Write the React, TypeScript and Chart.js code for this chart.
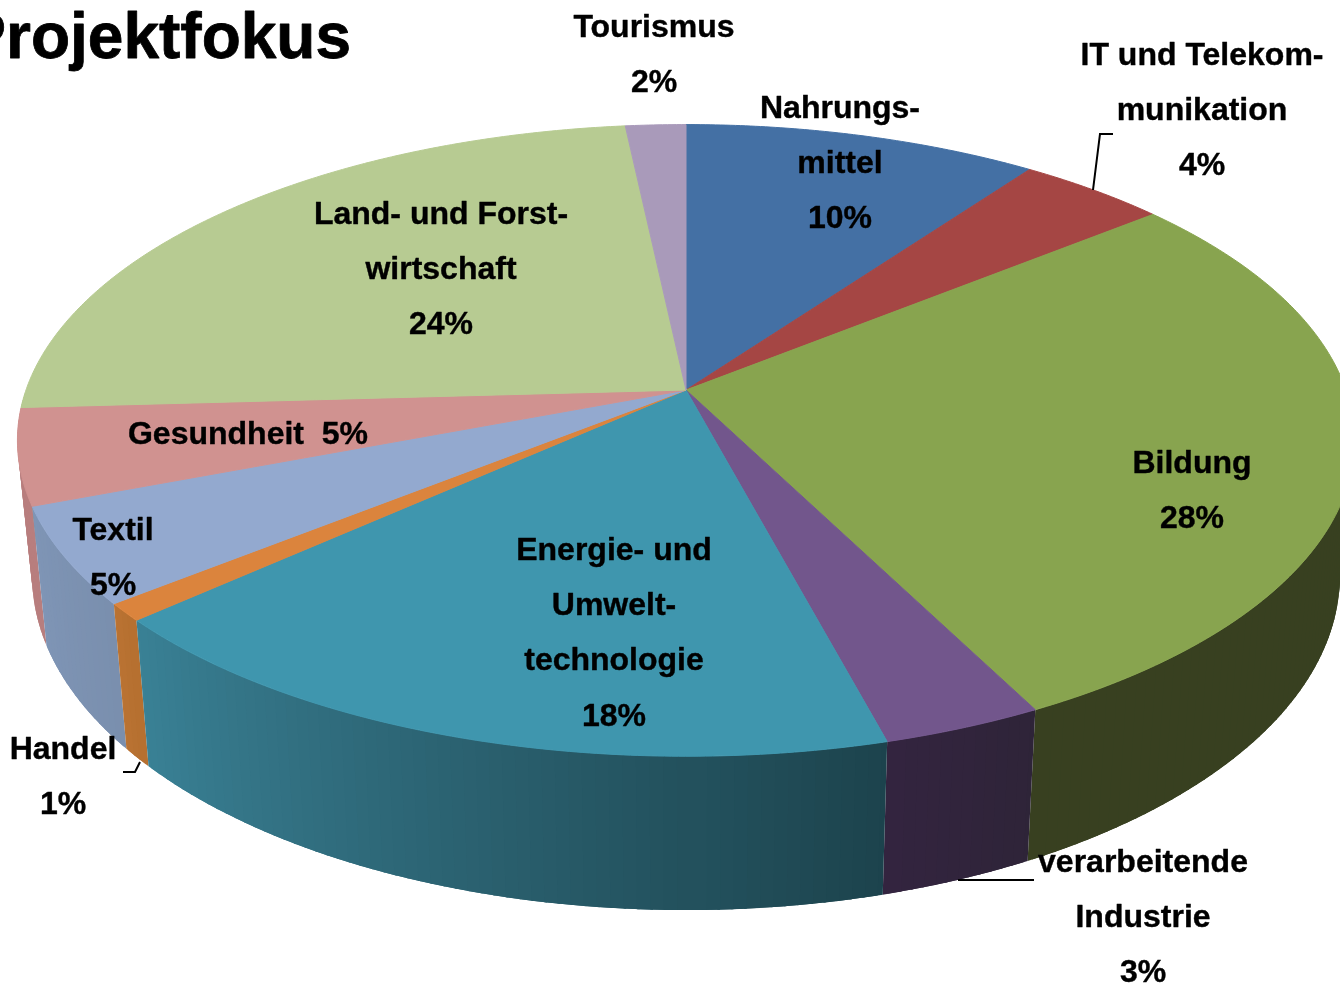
import React, { useEffect, useRef } from "react";
import { Chart, registerables } from "chart.js";

Chart.register(...registerables);

const categories = [
  "Nahrungsmittel", "IT und Telekommunikation", "Bildung", "verarbeitende Industrie",
  "Energie- und Umwelttechnologie", "Handel", "Textil", "Gesundheit",
  "Land- und Forstwirtschaft", "Tourismus",
];
const shares = [10, 4.2, 28.3, 3.35, 17.5, 0.9, 4.95, 4.9, 24.2, 1.7];
const topColors = ["#4470a4", "#a54644", "#88a44f", "#72568c", "#3f96ae", "#db843d", "#93a9cf", "#d09290", "#b7cb92", "#a99aba"];
const wallLeft = ["#33507a", "#7a3432", "#384020", "#33243f", "#3a8296", "#bb7333", "#7f95b6", "#b87e7e", "#8a9a6e", "#7f7390"];
const wallRight = ["#33507a", "#7a3432", "#384020", "#2e2438", "#1c424c", "#b56f30", "#7a8fae", "#b87e7e", "#8a9a6e", "#7f7390"];
const labelLines = [
  ["Nahrungs-", "mittel", "10%"], ["IT und Telekom-", "munikation", "4%"], ["Bildung", "28%"],
  ["verarbeitende", "Industrie", "3%"], ["Energie- und", "Umwelt-", "technologie", "18%"],
  ["Handel", "1%"], ["Textil", "5%"], ["Gesundheit  5%"],
  ["Land- und Forst-", "wirtschaft", "24%"], ["Tourismus", "2%"],
];
const titleText = "Projektfokus";

const labelAnchors = [[840, 118], [1202, 64.5], [1192, 473], [1143, 872], [614, 560], [63, 759], [113, 540], [248, 444], [441, 224], [654, 37]];
const leaderLines = [
  [[1093, 190], [1100, 134], [1113, 134]],
  [[123, 772], [135, 772], [140, 762]],
  [[958, 880], [1034, 880]],
];

const CX = 686, CY = 390, AX = 660, BY = 307.8, K = -0.1596;
const project = (a: number) => {
  const u = Math.cos(a), v = Math.sin(a), w = 1 + K * v;
  return { x: CX + (AX * u) / w, y: CY + (BY * v) / w, v };
};
const lower = (p: { x: number; y: number }) => ({ x: CX + 0.978 * (p.x - CX), y: 1.058 * p.y + 110 });
const mix = (c1: string, c2: string, t: number) => {
  const h = (c: string, i: number) => parseInt(c.slice(1 + i * 2, 3 + i * 2), 16);
  return `rgb(${[0, 1, 2].map((i) => Math.round(h(c1, i) + (h(c2, i) - h(c1, i)) * t)).join(",")})`;
};

const pie3d = {
  id: "pie3d",
  beforeDatasetsDraw(chart: any) {
    const ctx = chart.ctx as CanvasRenderingContext2D;
    const arcs = chart.getDatasetMeta(0).data as any[];
    const STEP = Math.PI / 180;
    const quads: any[] = [];
    arcs.forEach((arc, i) => {
      const { startAngle, endAngle } = arc.getProps(["startAngle", "endAngle"], true);
      const n = Math.max(1, Math.ceil((endAngle - startAngle) / STEP));
      for (let k = 0; k < n; k++) {
        const span = endAngle - startAngle;
        const a0 = startAngle + (span * k) / n;
        const mid = startAngle + (span * (k + 0.5)) / n;
        const pm = project(mid);
        if (pm.v < 0.02) continue;
        // the quad is stretched a little past both neighbours, so no seam shows between them
        const a1 = Math.min(endAngle, startAngle + (span * (k + 1.6)) / n);
        const a00 = Math.max(startAngle, a0 - span * 0.6 / n);
        const p0 = project(a00), p1 = project(a1);
        quads.push({ p0, p1, q0: lower(p0), q1: lower(p1), v: pm.v, color: mix(wallRight[i], wallLeft[i], (mid - startAngle) / span) });
      }
    });
    quads.sort((a, b) => a.v - b.v);
    ctx.save();
    for (const q of quads) {
      ctx.beginPath();
      ctx.moveTo(q.p0.x, q.p0.y);
      ctx.lineTo(q.p1.x, q.p1.y);
      ctx.lineTo(q.q1.x, q.q1.y);
      ctx.lineTo(q.q0.x, q.q0.y);
      ctx.closePath();
      ctx.fillStyle = q.color;
      ctx.fill();
    }
    ctx.lineWidth = 1;
    ctx.lineJoin = "round";
    arcs.forEach((arc, i) => {
      const { startAngle, endAngle } = arc.getProps(["startAngle", "endAngle"], true);
      const n = Math.max(1, Math.ceil((endAngle - startAngle) / (STEP / 2)));
      ctx.beginPath();
      ctx.moveTo(CX, CY);
      for (let k = 0; k <= n; k++) {
        const p = project(startAngle + ((endAngle - startAngle) * k) / n);
        ctx.lineTo(p.x, p.y);
      }
      ctx.closePath();
      ctx.fillStyle = topColors[i];
      ctx.strokeStyle = topColors[i];
      ctx.fill();
      ctx.stroke();
    });
    ctx.restore();
    return false;
  },
  afterDraw(chart: any) {
    const ctx = chart.ctx as CanvasRenderingContext2D;
    ctx.save();
    ctx.strokeStyle = "#000";
    ctx.lineWidth = 2;
    for (const line of leaderLines) {
      ctx.beginPath();
      line.forEach(([x, y], i) => (i ? ctx.lineTo(x, y) : ctx.moveTo(x, y)));
      ctx.stroke();
    }
    ctx.fillStyle = "#000";
    ctx.textBaseline = "alphabetic";
    ctx.textAlign = "center";
    ctx.font = 'bold 32px "Liberation Sans"';
    ctx.lineWidth = 0.4;
    ctx.lineJoin = "round";
    labelLines.forEach((lines, i) => {
      lines.forEach((s, j) => {
        const y = labelAnchors[i][1] + j * 55.2;
        ctx.fillText(s, labelAnchors[i][0], y);
        ctx.strokeText(s, labelAnchors[i][0], y);
      });
    });
    ctx.textAlign = "right";
    ctx.font = 'bold 64px "Liberation Sans"';
    ctx.lineWidth = 0.8;
    ctx.fillText(titleText, 351, 58);
    ctx.strokeText(titleText, 351, 58);
    ctx.restore();
  },
};

export default function App() {
  const ref = useRef<HTMLCanvasElement>(null);
  useEffect(() => {
    document.body.style.margin = "0";
    const chart = new Chart(ref.current!, {
      type: "pie",
      data: { labels: categories, datasets: [{ data: shares, backgroundColor: topColors, borderWidth: 0 }] },
      options: {
        responsive: false,
        animation: false,
        plugins: { legend: { display: false }, tooltip: { enabled: false }, title: { display: false } },
      },
      plugins: [pie3d],
    } as any);
    return () => chart.destroy();
  }, []);
  return <canvas ref={ref} width={1340} height={985} style={{ display: "block", position: "absolute", left: 0, top: 0 }} />;
}
